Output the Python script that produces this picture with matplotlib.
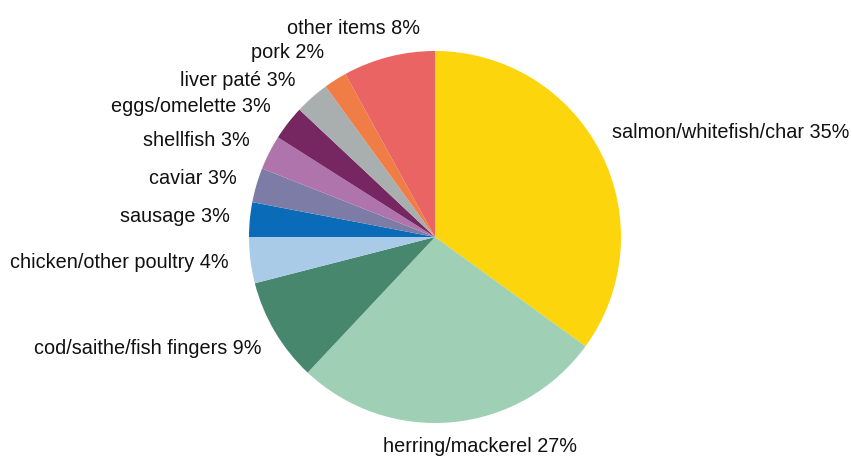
import matplotlib.pyplot as plt

plt.rcParams['font.family'] = ['Liberation Sans', 'DejaVu Sans']

categories = ['salmon/whitefish/char', 'herring/mackerel', 'cod/saithe/fish fingers',
              'chicken/other poultry', 'sausage', 'caviar', 'shellfish',
              'eggs/omelette', 'liver paté', 'pork', 'other items']
shares = [35, 27, 9, 4, 3, 3, 3, 3, 3, 2, 8]

colors = ['#FCD50C', '#9FCFB4', '#46876E', '#AACBE8', '#0A6CB9', '#7D7CA6',
          '#B074AC', '#762660', '#A9AEAF', '#F07D45', '#E96462']

# label anchor (x, y from top) and alignment, in pixels
label_pos = [(612, 133, 'left'), (480, 447, 'center'), (262, 348, 'right'),
             (229, 263, 'right'), (230, 217, 'right'), (237, 179, 'right'),
             (250, 140, 'right'), (271, 107, 'right'), (295, 80, 'right'),
             (324, 53, 'right'), (420, 28, 'right')]

W, H = 852, 457
fig = plt.figure(figsize=(W / 100, H / 100), dpi=100)
ax = fig.add_axes([0, 0, 1, 1])

ax.pie(shares, colors=colors, startangle=90, counterclock=False,
       center=(435, H - 237), radius=186, frame=True,
       wedgeprops={'linewidth': 0})

for cat, val, (x, y, ha) in zip(categories, shares, label_pos):
    ax.text(x, H - y, f'{cat} {val}%', ha=ha, va='center', fontsize=14.3, color='#111111')

ax.set_xlim(0, W)
ax.set_ylim(0, H)
ax.set_aspect('equal')
ax.axis('off')

fig.savefig('out.png', dpi=100)
